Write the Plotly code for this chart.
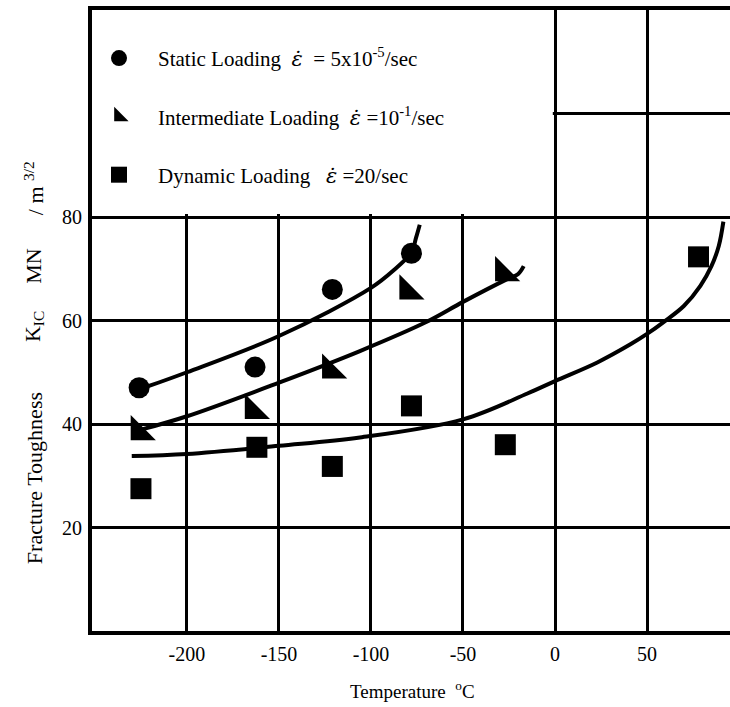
import plotly.graph_objects as go

# ---- measured data (Temperature in deg C, K_IC in MN/m^3/2) ----
static_t = [-226, -163, -121, -78]
static_k = [47.0, 51.0, 66.0, 73.0]

inter_t = [-226, -164, -122, -80, -28]
inter_k = [38.5, 42.6, 50.4, 65.7, 69.2]

dyn_t = [-225, -162, -121, -78, -27, 78]
dyn_k = [27.5, 35.5, 31.8, 43.5, 36.0, 72.3]

# hand-drawn trend curves
static_fit_t = [-221, -200, -150, -100, -88, -78, -75.5, -73.5]
static_fit_k = [47.3, 50.0, 57.0, 66.3, 69.6, 73.2, 76.0, 78.5]

inter_fit_t = [-224, -200, -150, -106, -70, -50, -26, -20, -17]
inter_fit_k = [39.0, 41.5, 48.0, 54.1, 59.7, 63.6, 68.0, 69.0, 70.5]

dyn_fit_t = [-230, -200, -150, -106, -50, -15, 0, 23, 41, 50, 59, 70, 79, 85, 89, 91.5]
dyn_fit_k = [33.8, 34.2, 35.8, 37.4, 40.9, 45.9, 48.3, 51.9, 55.4, 57.4, 59.7, 62.8, 66.7, 70.5, 74.4, 79.1]

x_ticks = [-200, -150, -100, -50, 0, 50]
x_ticktext = ["-200", "-150", "-100", "-50", "0", "50"]
y_ticks = [20, 40, 60, 80, 100]
y_ticktext = ["20", "40", "60", "80", ""]

EPS = "<span style=\"font-family:DejaVu Serif\"><i>\u03b5\u0307</i></span>"
legend_names = [
    "Static Loading\u00a0\u00a0" + EPS + "\u00a0\u00a0= 5x10<sup>-5</sup>/sec",
    "Intermediate Loading\u00a0\u00a0" + EPS + "\u00a0=10<sup>-1</sup>/sec",
    "Dynamic Loading\u00a0\u00a0\u00a0" + EPS + "\u00a0=20/sec",
]

FONT = "Liberation Serif, Times New Roman, serif"

fig = go.Figure()

for ft, fk in [(static_fit_t, static_fit_k), (inter_fit_t, inter_fit_k), (dyn_fit_t, dyn_fit_k)]:
    fig.add_trace(go.Scatter(x=ft, y=fk, mode="lines",
                             line=dict(color="black", width=4, shape="spline", smoothing=1.0),
                             showlegend=False, hoverinfo="skip"))

fig.add_trace(go.Scatter(x=static_t, y=static_k, mode="markers", name=legend_names[0], legendgroup="a",
                         marker=dict(symbol="circle", size=21, color="black")))
fig.add_trace(go.Scatter(x=inter_t, y=inter_k, mode="markers", name=legend_names[1], legendgroup="b",
                         marker=dict(symbol="triangle-sw", size=28, color="black")))
fig.add_trace(go.Scatter(x=dyn_t, y=dyn_k, mode="markers", name=legend_names[2], legendgroup="c",
                         marker=dict(symbol="square", size=21, color="black")))

# white legend panel covering the grid in the upper left
fig.add_shape(type="rect", xref="x", yref="y", x0=-300, x1=-1.2, y0=80.6, y1=130,
              fillcolor="white", line=dict(width=0), layer="between")

TFONT = dict(family=FONT, size=22, color="black")
YT_X = -0.091
for txt, yp in [("Fracture Toughness", 0.246), ("K<sub>IC</sub>", 0.491), ("MN", 0.588),
                ("/ m\u00a0<sup>3/2</sup>", 0.713)]:
    fig.add_annotation(text=txt, xref="paper", yref="paper", x=YT_X, y=yp, textangle=-90,
                       showarrow=False, font=TFONT, xanchor="center", yanchor="middle")

fig.add_annotation(text="Temperature\u00a0\u00a0<sup>o</sup>C", xref="paper", yref="paper",
                   x=0.503, y=-0.095, showarrow=False, xanchor="center", yanchor="middle",
                   font=dict(family=FONT, size=19, color="black"))

fig.update_layout(
    width=730, height=707,
    margin=dict(l=92, r=0, t=10, b=76),
    paper_bgcolor="white", plot_bgcolor="white",
    font=dict(family=FONT, size=20, color="black"),
    showlegend=True,
    legend=dict(x=-0.0188, y=0.955, xanchor="left", yanchor="top", bgcolor="rgba(0,0,0,0)",
                font=dict(family=FONT, size=21, color="black"), itemwidth=68,
                tracegroupgap=28, traceorder="grouped"),
    xaxis=dict(range=[-251.6, 95.1], tickvals=x_ticks, ticktext=x_ticktext, showgrid=True,
               gridcolor="black", gridwidth=2.5, zeroline=False, showline=True, linecolor="black",
               linewidth=4, mirror=True, ticks="", ticklabelstandoff=2,
               tickfont=dict(family=FONT, size=20)),
    yaxis=dict(range=[0, 120], tickvals=y_ticks, ticktext=y_ticktext, showgrid=True, gridcolor="black",
               gridwidth=2.5, zeroline=False, showline=True, linecolor="black", linewidth=4, mirror=False,
               ticks="", ticklabelstandoff=2, tickfont=dict(family=FONT, size=20)),
)

# the page's default body margin would shift the 730x707 figure; remove it
fig.write_html("out.html", config={"displayModeBar": False},
               post_script="document.body.style.margin='0';document.body.style.overflow='hidden';")
